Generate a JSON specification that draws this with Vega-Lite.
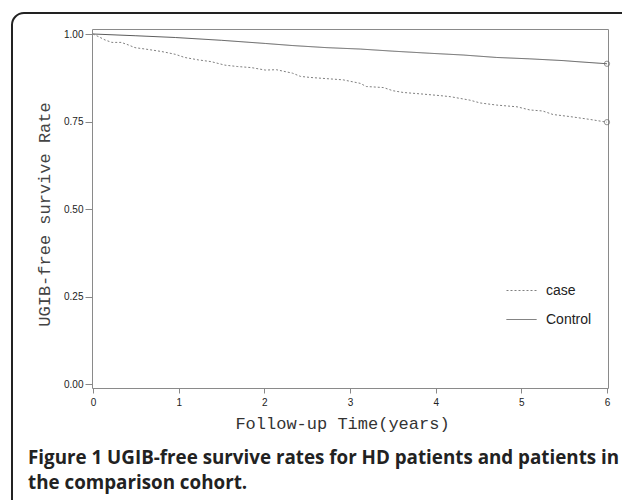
{
  "$schema": "https://vega.github.io/schema/vega-lite/v6.json",
  "width": 516,
  "height": 359,
  "autosize": {"type": "none"},
  "padding": {"left": 92, "top": 29, "right": 14, "bottom": 112},
  "background": "white",
  "config": {"view": {"stroke": "#8a8a8a", "strokeWidth": 1}},
  "title": {
    "text": ["Figure 1 UGIB-free survive rates for HD patients and patients in", "the comparison cohort."],
    "orient": "bottom", "anchor": "start", "frame": "group", "dx": -64, "dy": -90, "offset": 14,
    "font": "Open Sans", "fontSize": 18.8, "fontWeight": "bold", "color": "#222", "lineHeight": 25
  },
  "datasets": {
    "km": [
      {"g": "Control", "t": 0, "s": 1.0},
      {"g": "Control", "t": 0.5, "s": 0.995},
      {"g": "Control", "t": 0.96, "s": 0.99},
      {"g": "Control", "t": 1.5, "s": 0.982},
      {"g": "Control", "t": 2.01, "s": 0.973},
      {"g": "Control", "t": 2.33, "s": 0.967},
      {"g": "Control", "t": 2.73, "s": 0.961},
      {"g": "Control", "t": 3.12, "s": 0.957},
      {"g": "Control", "t": 3.5, "s": 0.951},
      {"g": "Control", "t": 3.93, "s": 0.945},
      {"g": "Control", "t": 4.32, "s": 0.94},
      {"g": "Control", "t": 4.71, "s": 0.933},
      {"g": "Control", "t": 5.1, "s": 0.929},
      {"g": "Control", "t": 5.49, "s": 0.924},
      {"g": "Control", "t": 5.65, "s": 0.921},
      {"g": "Control", "t": 6, "s": 0.915},
      {"g": "case", "t": 0, "s": 1.0},
      {"g": "case", "t": 0.06, "s": 0.993},
      {"g": "case", "t": 0.14, "s": 0.983},
      {"g": "case", "t": 0.22, "s": 0.976},
      {"g": "case", "t": 0.33, "s": 0.976},
      {"g": "case", "t": 0.41, "s": 0.969},
      {"g": "case", "t": 0.49, "s": 0.961},
      {"g": "case", "t": 0.61, "s": 0.957},
      {"g": "case", "t": 0.8, "s": 0.95},
      {"g": "case", "t": 0.96, "s": 0.942},
      {"g": "case", "t": 1.07, "s": 0.933},
      {"g": "case", "t": 1.23, "s": 0.926},
      {"g": "case", "t": 1.38, "s": 0.921},
      {"g": "case", "t": 1.54, "s": 0.911},
      {"g": "case", "t": 1.69, "s": 0.907},
      {"g": "case", "t": 1.85, "s": 0.904},
      {"g": "case", "t": 2.01, "s": 0.897},
      {"g": "case", "t": 2.14, "s": 0.898},
      {"g": "case", "t": 2.33, "s": 0.888},
      {"g": "case", "t": 2.42, "s": 0.879},
      {"g": "case", "t": 2.53, "s": 0.876},
      {"g": "case", "t": 2.92, "s": 0.869},
      {"g": "case", "t": 3.12, "s": 0.859},
      {"g": "case", "t": 3.19, "s": 0.85},
      {"g": "case", "t": 3.39, "s": 0.847},
      {"g": "case", "t": 3.5, "s": 0.838},
      {"g": "case", "t": 3.62, "s": 0.833},
      {"g": "case", "t": 3.82, "s": 0.829},
      {"g": "case", "t": 4.05, "s": 0.824},
      {"g": "case", "t": 4.17, "s": 0.821},
      {"g": "case", "t": 4.4, "s": 0.811},
      {"g": "case", "t": 4.52, "s": 0.803},
      {"g": "case", "t": 4.71, "s": 0.797},
      {"g": "case", "t": 4.95, "s": 0.792},
      {"g": "case", "t": 5.1, "s": 0.783},
      {"g": "case", "t": 5.25, "s": 0.78},
      {"g": "case", "t": 5.37, "s": 0.77},
      {"g": "case", "t": 5.57, "s": 0.764},
      {"g": "case", "t": 5.8, "s": 0.756},
      {"g": "case", "t": 6, "s": 0.748}
    ],
    "censor": [
      {"g": "Control", "t": 6, "s": 0.915},
      {"g": "case", "t": 6, "s": 0.748}
    ]
  },
  "layer": [
    {
      "data": {"values": [{}]},
      "mark": {"type": "rect", "filled": false, "stroke": "#222", "strokeWidth": 2, "cornerRadius": 12, "clip": false},
      "encoding": {
        "x": {"datum": -0.946, "type": "quantitative", "scale": {"domain": [-0.012, 6.012]}},
        "x2": {"datum": 6.4},
        "y": {"datum": 1.06, "type": "quantitative", "scale": {"domain": [-0.0114, 1.0143]}},
        "y2": {"datum": -0.4}
      }
    },
    {
      "data": {"name": "km"},
      "mark": {"type": "line", "strokeWidth": 1},
      "encoding": {
        "x": {
          "field": "t", "type": "quantitative",
          "scale": {"domain": [-0.012, 6.012], "nice": false, "zero": false},
          "axis": {
            "values": [0, 1, 2, 3, 4, 5, 6], "format": "d", "grid": false, "domain": false,
            "title": "Follow-up Time(years)", "titleFont": "Liberation Mono", "titleFontSize": 17,
            "titleFontWeight": "normal", "titleColor": "#333", "titlePadding": 8, "titleX": 250,
            "labelFont": "Liberation Sans", "labelFontSize": 10, "labelColor": "#222",
            "tickColor": "#888", "tickSize": 5, "labelPadding": 4
          }
        },
        "y": {
          "field": "s", "type": "quantitative",
          "scale": {"domain": [-0.0114, 1.0143], "nice": false, "zero": false},
          "axis": {
            "values": [0, 0.25, 0.5, 0.75, 1], "format": ".2f", "grid": false, "domain": false,
            "title": "UGIB-free survive Rate", "titleFont": "Liberation Mono", "titleFontSize": 17,
            "titleFontWeight": "normal", "titleColor": "#444", "titlePadding": 10, "titleY": 185,
            "labelFont": "Liberation Sans", "labelFontSize": 10, "labelColor": "#222",
            "tickColor": "#888", "tickSize": 7, "labelPadding": 2
          }
        },
        "color": {
          "field": "g", "type": "nominal",
          "scale": {"domain": ["case", "Control"], "range": ["#808080", "#5a5a5a"]},
          "legend": {
            "title": null, "orient": "none", "legendX": 414, "legendY": 246,
            "symbolType": "stroke", "symbolSize": 900, "symbolStrokeWidth": 1,
            "labelFont": "Liberation Sans", "labelFontSize": 14, "labelColor": "#222",
            "labelOffset": 9, "rowPadding": 6
          }
        },
        "strokeDash": {
          "field": "g", "type": "nominal",
          "scale": {"domain": ["case", "Control"], "range": [[2, 2], [1, 0]]},
          "legend": {
            "title": null, "orient": "none", "legendX": 414, "legendY": 246,
            "symbolType": "stroke", "symbolSize": 900, "symbolStrokeWidth": 1,
            "labelFont": "Liberation Sans", "labelFontSize": 14, "labelColor": "#222",
            "labelOffset": 9, "rowPadding": 6
          }
        }
      }
    },
    {
      "data": {"name": "censor"},
      "mark": {"type": "point", "shape": "circle", "filled": false, "size": 28, "stroke": "#666", "strokeWidth": 1, "clip": false},
      "encoding": {
        "x": {"field": "t", "type": "quantitative"},
        "y": {"field": "s", "type": "quantitative"}
      }
    }
  ]
}
